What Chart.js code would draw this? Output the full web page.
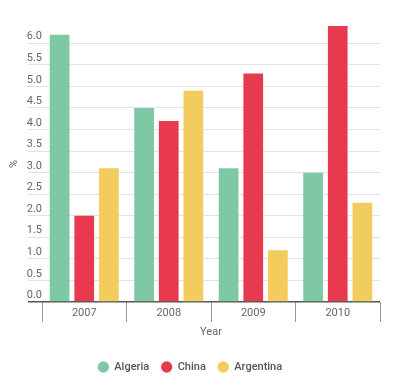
<!DOCTYPE html>
<html>
<head>
<meta charset="utf-8">
<script src="https://cdn.jsdelivr.net/npm/chart.js@4"></script>
<style>
  body { margin: 0; background: #fff; }
</style>
</head>
<body>
<canvas id="grafico" width="402" height="389"></canvas>
<script>
const anos = ['2007', '2008', '2009', '2010'];
const argelia = [6.2, 4.5, 3.1, 3.0];
const china = [2.0, 4.2, 5.3, 6.4];
const argentina = [3.1, 4.9, 1.2, 2.3];
const cores = ['#7ec8a6', '#e83a4e', '#f2cd5e'];

Chart.defaults.font.family = 'Roboto';
Chart.defaults.font.size = 11;
Chart.defaults.color = '#666';

new Chart(document.getElementById('grafico'), {
  type: 'bar',
  data: {
    labels: anos,
    datasets: [
      { label: 'Algeria', data: argelia, backgroundColor: cores[0] },
      { label: 'China', data: china, backgroundColor: cores[1] },
      { label: 'Argentina', data: argentina, backgroundColor: cores[2] }
    ]
  },
  options: {
    responsive: false,
    animation: false,
    categoryPercentage: 0.875,
    barPercentage: 0.8,
    layout: { padding: { top: 26, right: 22, left: 0, bottom: 6.5 } },
    plugins: {
      tooltip: { enabled: false },
      legend: {
        position: 'bottom',
        labels: {
          usePointStyle: true,
          pointStyle: 'circle',
          boxWidth: 12,
          boxHeight: 8,
          padding: 12,
          color: '#555',
          font: { size: 11, weight: '500' }
        }
      }
    },
    scales: {
      x: {
        border: { display: false },
        grid: { drawOnChartArea: false, tickLength: 20, color: '#999' },
        ticks: { padding: -15, color: '#666' },
        title: { display: true, text: 'Year', color: '#666', padding: { top: 4, bottom: 11 } },
        afterFit: s => { s.height = 47.5; }
      },
      y: {
        min: 0,
        max: 6.4,
        border: { display: false },
        grid: {
          tickLength: 14,
          color: c => (c.tick && c.tick.value === 0 ? '#555' : '#e3e3e3'),
          lineWidth: c => (c.tick && c.tick.value === 0 ? 1.5 : 1)
        },
        ticks: {
          stepSize: 0.5,
          includeBounds: false,
          autoSkip: false,
          padding: -14,
          color: '#666',
          callback: v => [v.toFixed(1), '']
        },
        title: { display: true, text: '%', color: '#666', padding: { top: 8, bottom: 0 } },
        afterFit: s => { s.width = 42; }
      }
    }
  }
});
</script>
</body>
</html>
